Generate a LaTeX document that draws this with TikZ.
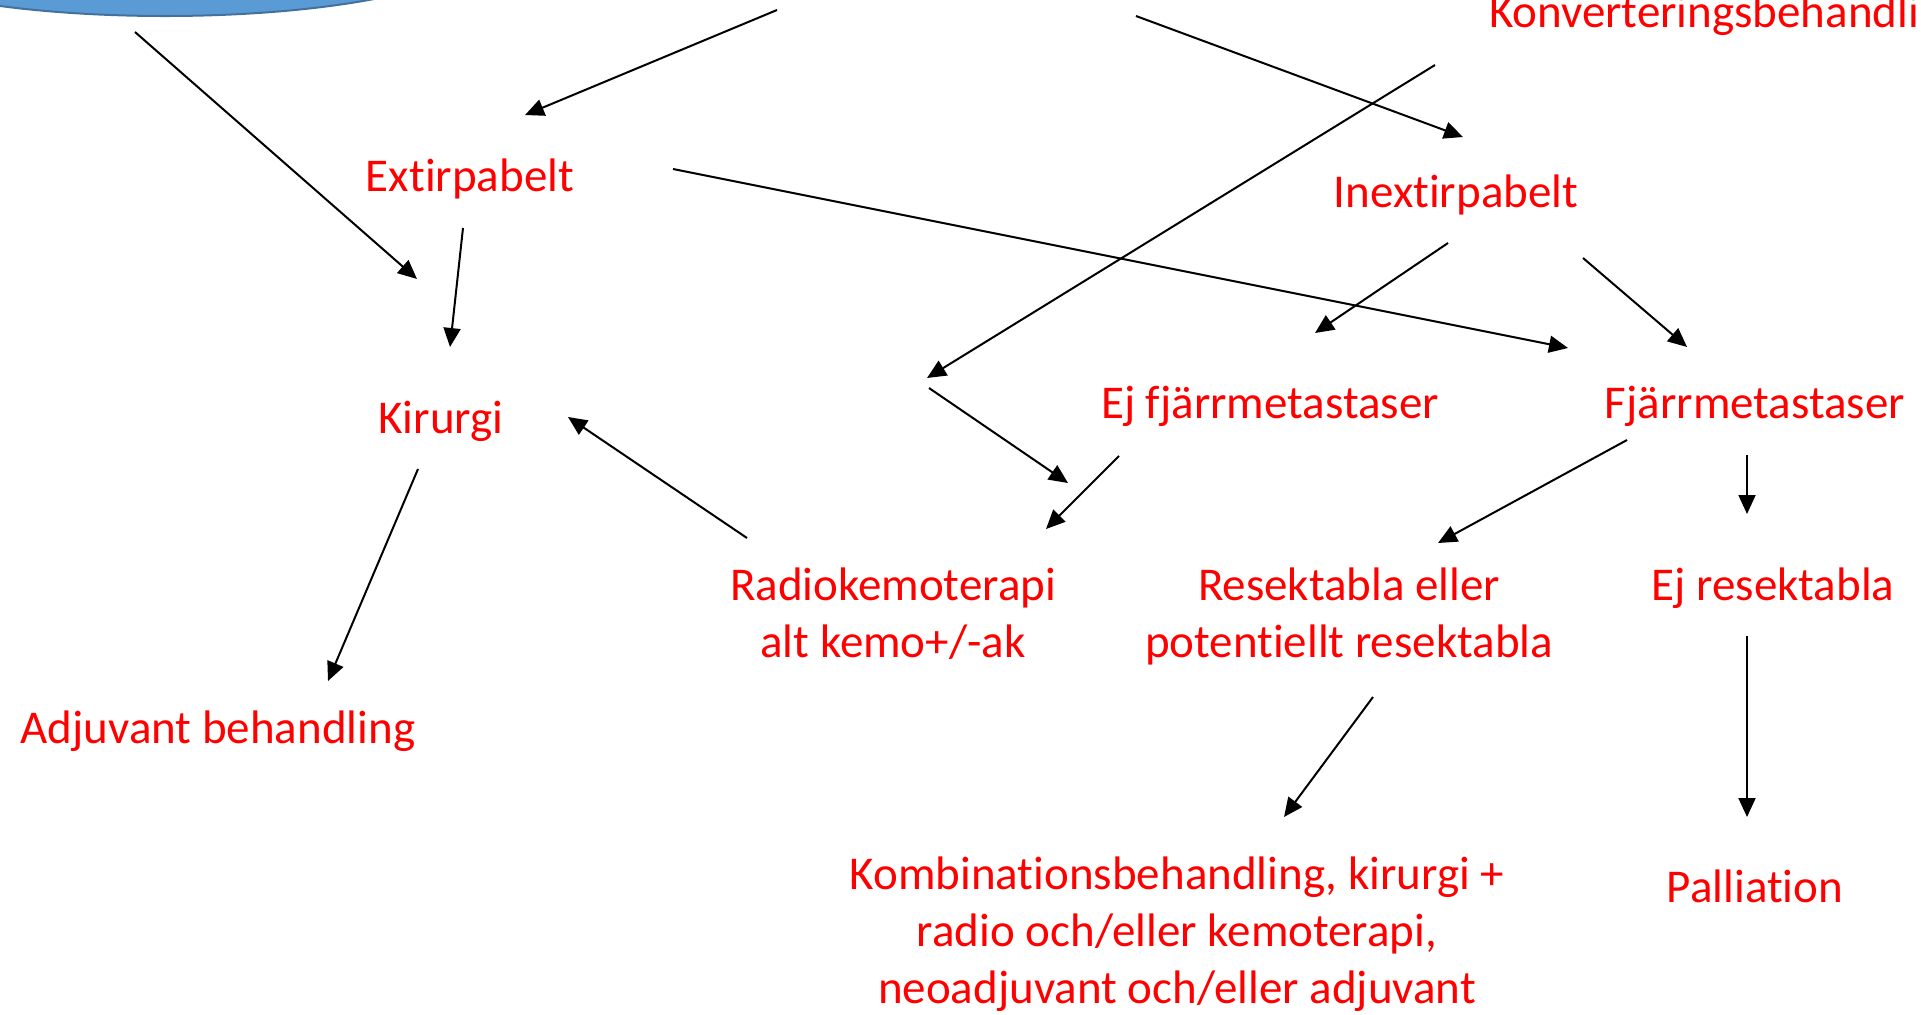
\documentclass[tikz,border=0pt]{standalone}
\usepackage{fontspec}
\setmainfont{Carlito}[Ligatures=CommonOff]
\usetikzlibrary{arrows.meta,shapes.geometric}
\definecolor{startblue}{RGB}{91,155,213}
\definecolor{startedge}{RGB}{65,113,156}

\begin{document}
\begin{tikzpicture}[->,>={Triangle[length=9.5pt,width=8.5pt]},line width=1pt,
                    x=0.5pt,y=-0.5pt,
                    lbl/.style={text=red,anchor=base,align=center,inner sep=0pt,
                                font=\fontsize{23.5pt}{28.5pt}\selectfont}]

  \useasboundingbox (0,0) rectangle (1921,1014);

  \node[ellipse,draw=startedge,fill=startblue,line width=1pt,
        minimum width=320pt,minimum height=70pt] (start) at (165,-54) {};

  % base of a two or three line text is its last line
  \node[lbl,anchor=base west] (konv) at (1488,27)  {Konverteringsbehandling};
  \node[lbl]                  (ext)   at (470,191)  {Extirpabelt};
  \node[lbl]                  (inext) at (1456,207) {Inextirpabelt};
  \node[lbl]                  (kir)   at (441,433)  {Kirurgi};
  \node[lbl]                  (ejfm)  at (1270,418) {Ej fjärrmetastaser};
  \node[lbl]                  (fm)    at (1755,418) {Fjärrmetastaser};
  \node[lbl]                  (rkt)   at (893,657)  {Radiokemoterapi\\alt kemo+/-ak};
  \node[lbl]                  (res)   at (1349,657) {Resektabla eller\\potentiellt resektabla};
  \node[lbl]                  (ejres) at (1773,600) {Ej resektabla};
  \node[lbl]                  (adj)   at (218,743)  {Adjuvant behandling};
  \node[lbl]                  (komb)  at (1177,1003) {Kombinationsbehandling, kirurgi +\\
                                                      radio och/eller kemoterapi,\\
                                                      neoadjuvant och/eller adjuvant};
  \node[lbl]                  (pall)  at (1755,902) {Palliation};

  % free ends above the frame, and the bend of the conversion arrow
  \coordinate (src1) at (777,10);
  \coordinate (src2) at (1136,16);
  \coordinate (knot) at (928,383);

  \path ([shift={(-30,86)}]start.center)   edge ([shift={(-24,-154)}]kir.base)
        (src1)                             edge ([shift={(55,-76)}]ext.base)
        (src2)                             edge ([shift={(7,-70)}]inext.base)
        ([shift={(-53,38)}]konv.base west) edge ([shift={(-1,-5)}]knot)
        ([shift={(-7,37)}]ext.base)        edge ([shift={(9,-86)}]kir.base)
        ([shift={(203,-22)}]ext.base)      edge ([shift={(-187,-70)}]fm.base)
        ([shift={(-8,36)}]inext.base)      edge ([shift={(45,-85)}]ejfm.base)
        ([shift={(127,51)}]inext.base)     edge ([shift={(-68,-71)}]fm.base)
        ([shift={(1,5)}]knot)              edge ([shift={(175,-174)}]rkt.base)
        ([shift={(-151,38)}]ejfm.base)     edge ([shift={(153,-128)}]rkt.base)
        ([shift={(-146,-119)}]rkt.base)    edge ([shift={(127,-16)}]kir.base)
        ([shift={(-23,36)}]kir.base)       edge ([shift={(110,-62)}]adj.base)
        ([shift={(-128,22)}]fm.base)       edge ([shift={(89,-114)}]res.base)
        ([shift={(-8,37)}]fm.base)         edge ([shift={(-26,-86)}]ejres.base)
        ([shift={(24,40)}]res.base)        edge ([shift={(107,-186)}]komb.base)
        ([shift={(-26,36)}]ejres.base)     edge ([shift={(-8,-85)}]pall.base);
\end{tikzpicture}
\end{document}
